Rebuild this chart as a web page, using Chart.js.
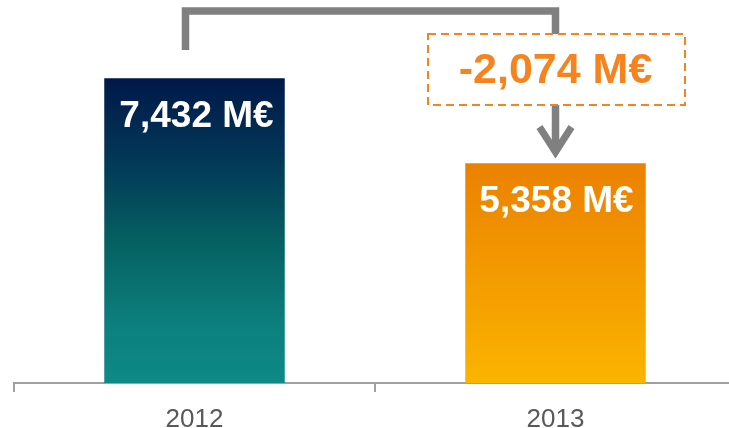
<!DOCTYPE html>
<html>
<head>
<meta charset="utf-8">
<script src="https://cdn.jsdelivr.net/npm/chart.js@4/dist/chart.umd.min.js"></script>
<style>
  html, body { margin: 0; padding: 0; background: #fff; overflow: hidden; }
  #wrap { width: 744px; height: 428px; }
</style>
</head>
<body>
<div id="wrap"><canvas id="c" width="744" height="428"></canvas></div>
<script>
const categories = ["2012", "2013"];
const values = [7432, 5358];
const valueLabels = ["7,432 M€", "5,358 M€"];
const deltaLabel = "-2,074 M€";

const gradientStops = [
  [[0, "#001849"], [0.3, "#033C58"], [0.55, "#066262"], [0.8, "#0C7F7D"], [1, "#0E8A86"]],
  [[0, "#EB8100"], [1, "#FBB400"]]
];

function barFill(context) {
  const chart = context.chart;
  const area = chart.chartArea;
  if (!area) return "#0E8A86";
  const i = context.dataIndex;
  const ys = chart.scales.y;
  const top = ys.getPixelForValue(values[i]);
  const bottom = ys.getPixelForValue(0);
  const g = chart.ctx.createLinearGradient(0, top, 0, bottom);
  gradientStops[i].forEach(s => g.addColorStop(s[0], s[1]));
  return g;
}

const overlay = {
  id: "overlay",
  afterDatasetsDraw(chart) {
    const ctx = chart.ctx;
    const meta = chart.getDatasetMeta(0);
    const b0 = meta.data[0], b1 = meta.data[1];
    ctx.save();
    // value labels inside bars
    ctx.fillStyle = "#ffffff";
    ctx.font = "bold 37px 'Liberation Sans', Arial, sans-serif";
    ctx.textAlign = "center";
    ctx.textBaseline = "middle";
    ctx.fillText(valueLabels[0], b0.x + 2, b0.y + 39);
    ctx.fillText(valueLabels[1], b1.x + 1, b1.y + 39);

    // bracket
    const lx = b0.x - 9;
    const rx = b1.x;
    const topY = 11;
    ctx.strokeStyle = "#808080";
    ctx.lineWidth = 7.5;
    ctx.lineCap = "butt";
    ctx.lineJoin = "miter";
    ctx.beginPath();
    ctx.moveTo(lx, 50);
    ctx.lineTo(lx, topY);
    ctx.lineTo(rx, topY);
    ctx.lineTo(rx, 40);
    ctx.stroke();

    // arrow below the box
    ctx.beginPath();
    ctx.moveTo(rx, 100);
    ctx.lineTo(rx, 150);
    ctx.stroke();
    ctx.beginPath();
    ctx.lineWidth = 7;
    ctx.moveTo(rx - 16, 127);
    ctx.lineTo(rx, 152);
    ctx.lineTo(rx + 16, 127);
    ctx.stroke();
    ctx.fillStyle = "#808080";
    ctx.beginPath();
    ctx.moveTo(rx - 5, 150);
    ctx.lineTo(rx + 5, 150);
    ctx.lineTo(rx, 158);
    ctx.closePath();
    ctx.fill();

    // dashed box
    const bx = 428, by = 34, bw = 257, bh = 71;
    ctx.fillStyle = "#ffffff";
    ctx.fillRect(bx, by, bw, bh);
    ctx.setLineDash([8, 5]);
    ctx.strokeStyle = "#F5841F";
    ctx.lineWidth = 2;
    ctx.strokeRect(bx, by, bw, bh);
    ctx.setLineDash([]);

    ctx.fillStyle = "#F5841F";
    ctx.font = "bold 43px 'Liberation Sans', Arial, sans-serif";
    ctx.textAlign = "center";
    ctx.textBaseline = "middle";
    ctx.fillText(deltaLabel, bx + bw / 2 - 1, by + bh / 2 + 2);
    ctx.restore();
  }
};

new Chart(document.getElementById("c"), {
  type: "bar",
  data: {
    labels: categories,
    datasets: [{
      data: values,
      backgroundColor: barFill,
      borderWidth: 0,
      barPercentage: 0.5,
      categoryPercentage: 1.0
    }]
  },
  options: {
    responsive: false,
    animation: false,
    events: [],
    layout: { padding: { left: 14, right: 8, top: 0, bottom: 0 } },
    plugins: { legend: { display: false }, tooltip: { enabled: false } },
    scales: {
      x: {
        grid: {
          display: true,
          offset: true,
          drawOnChartArea: false,
          drawTicks: true,
          tickLength: 9,
          color: "#A0A0A0",
          lineWidth: 2
        },
        border: { display: true, color: "#A0A0A0", width: 2 },
        ticks: {
          color: "#595959",
          font: { family: "'Liberation Sans', Arial, sans-serif", size: 26 },
          padding: 12
        },
        afterFit(scale) { scale.height = 45; }
      },
      y: {
        display: false,
        min: 0,
        max: 9340
      }
    }
  },
  plugins: [overlay]
});
</script>
</body>
</html>
